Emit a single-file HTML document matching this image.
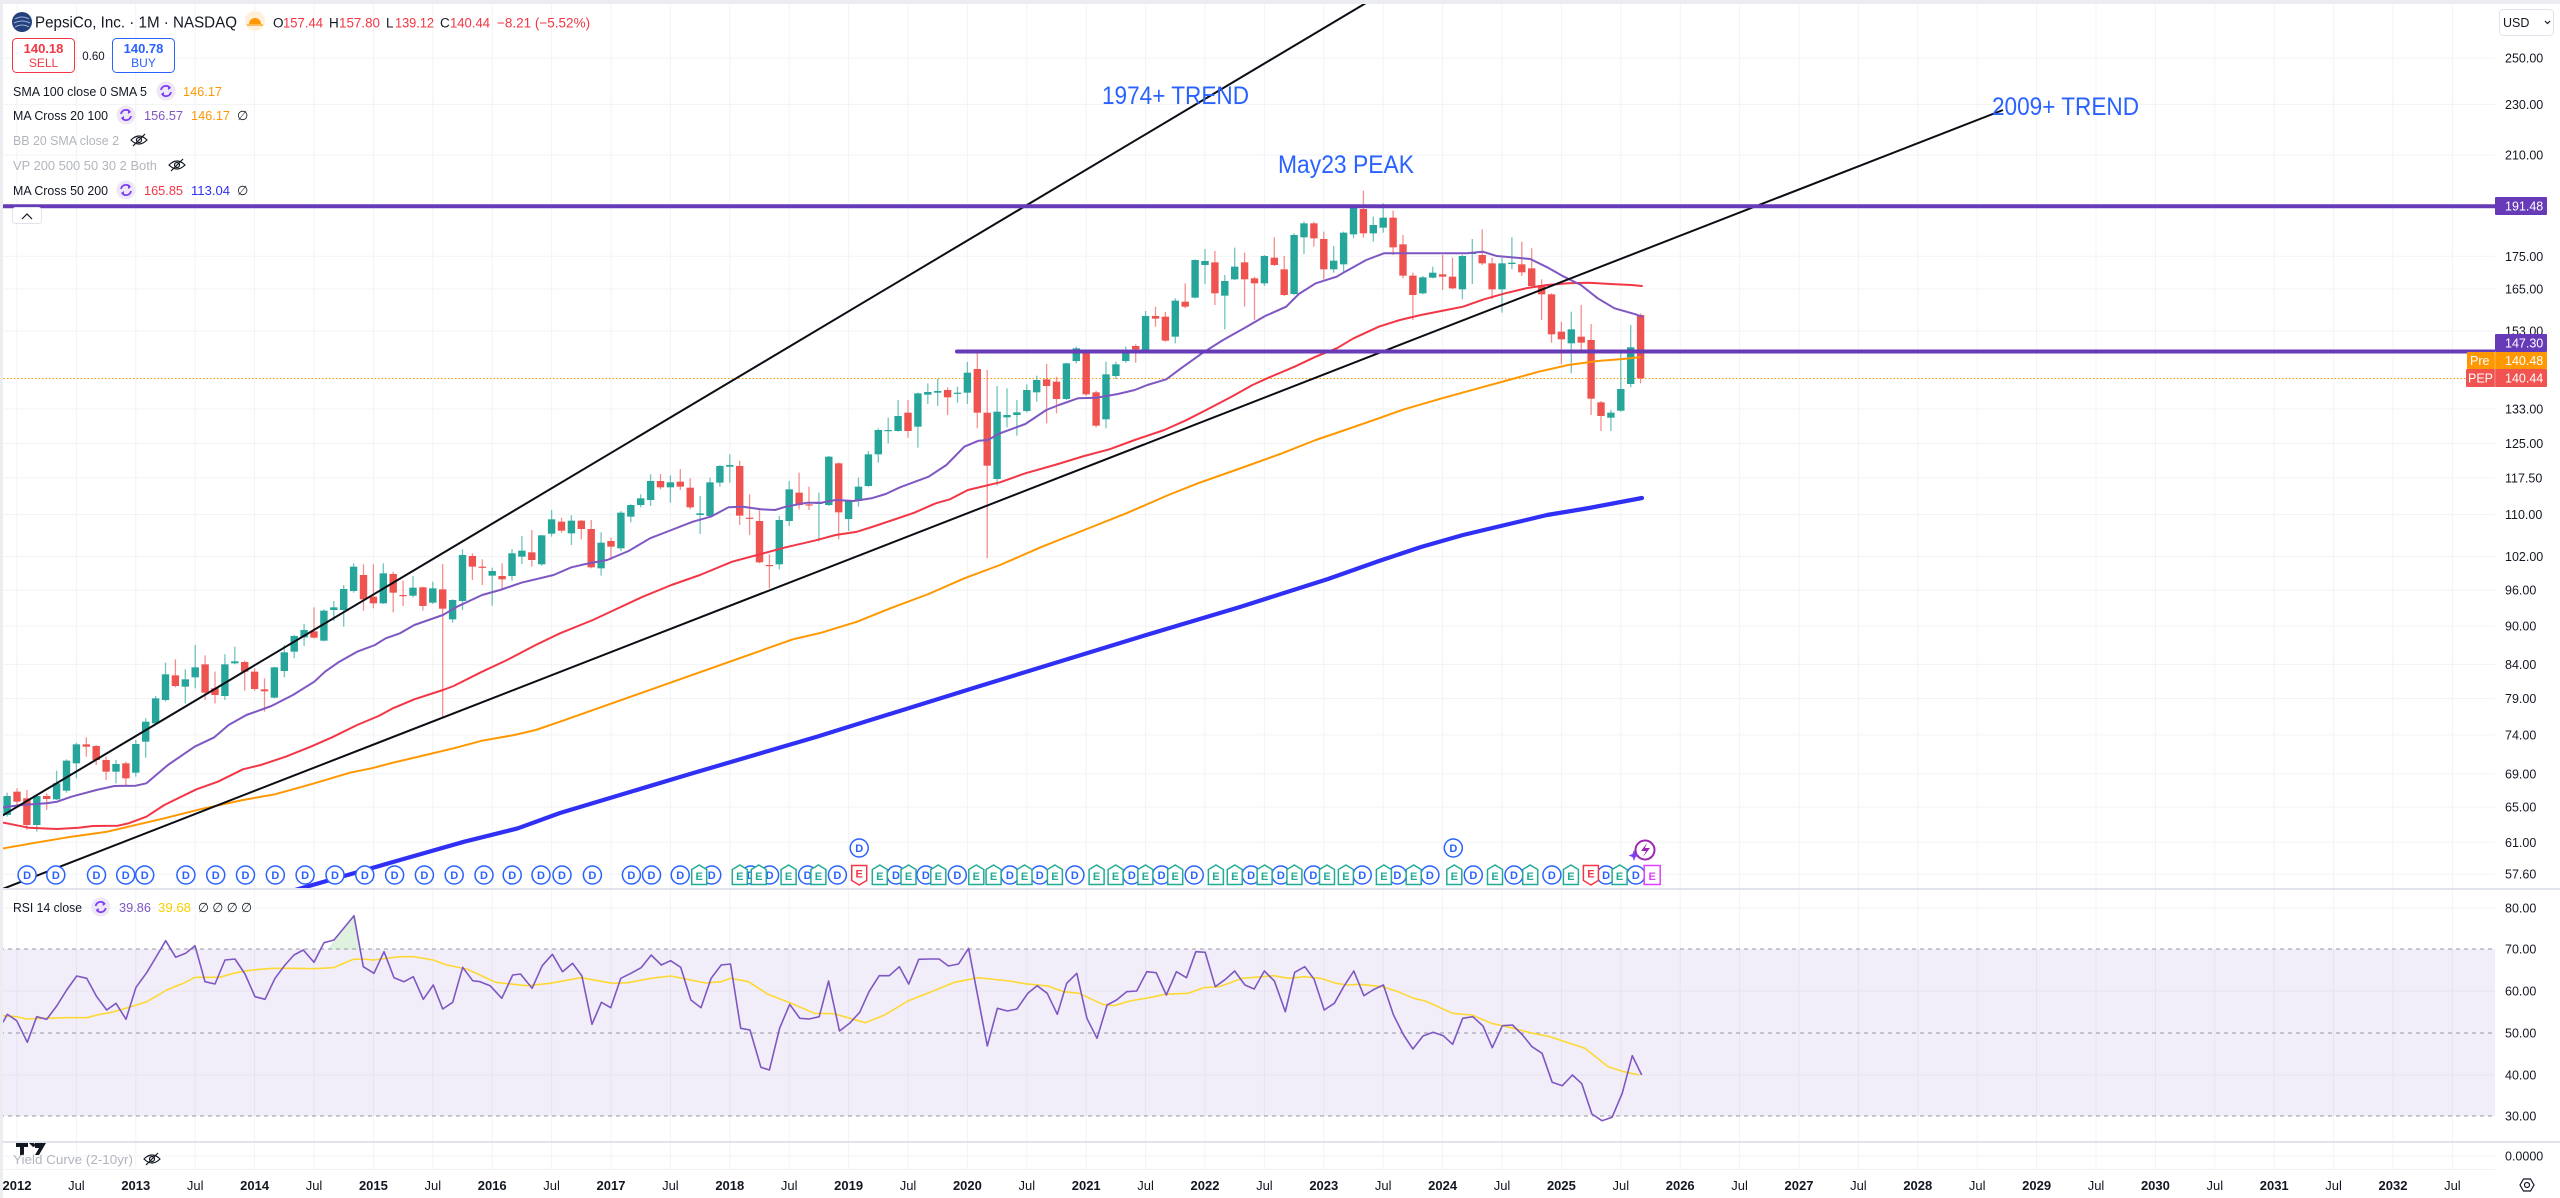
<!DOCTYPE html>
<html><head><meta charset="utf-8">
<style>
html,body{margin:0;padding:0;background:#fff;}
body{width:2560px;height:1198px;overflow:hidden;position:relative;}
svg{position:absolute;left:0;top:0;}
text{font-family:"Liberation Sans",Arial,sans-serif;}
</style></head><body>
<svg id="s" width="2560" height="1198" viewBox="0 0 2560 1198" xmlns="http://www.w3.org/2000/svg">
<defs>
<clipPath id="cm"><rect x="0" y="0" width="2495" height="889"/></clipPath>
<clipPath id="cr"><rect x="0" y="889" width="2495" height="253"/></clipPath>
</defs>
<rect x="0" y="0" width="2560" height="1198" fill="#fff"/>
<g id="grid"></g>
<!-- RSI band -->
<rect x="0" y="949" width="2495" height="167" fill="#7e57c2" fill-opacity="0.1"/>
<g stroke="#9598a1" stroke-width="1" stroke-dasharray="4 4">
<line x1="0" y1="949" x2="2495" y2="949"/>
<line x1="0" y1="1033" x2="2495" y2="1033"/>
<line x1="0" y1="1116" x2="2495" y2="1116"/>
</g>
<!-- pre-market dotted line -->
<line x1="0" y1="378.5" x2="2495" y2="378.5" stroke="#ff9800" stroke-width="1" stroke-dasharray="1.5 2"/>
<g id="candles" clip-path="url(#cm)"></g>
<g id="mas" clip-path="url(#cm)" fill="none" stroke-linejoin="round" stroke-linecap="round"></g>
<g clip-path="url(#cm)">
<line x1="0" y1="817" x2="1371" y2="0" stroke="#0c0e15" stroke-width="2"/>
<line x1="0" y1="890" x2="2003" y2="110" stroke="#0c0e15" stroke-width="2"/>
<line x1="3" y1="206.3" x2="2495" y2="206.3" stroke="#673ab7" stroke-width="4"/>
<line x1="957" y1="351.5" x2="2495" y2="351.5" stroke="#673ab7" stroke-width="4" stroke-linecap="round"/>
</g>
<g id="rsi" clip-path="url(#cr)" fill="none" stroke-linejoin="round"></g>
<g id="markers"></g>

<!-- annotations -->
<g fill="#2962ff" font-size="25">
<text x="1102" y="104" textLength="147" lengthAdjust="spacingAndGlyphs">1974+ TREND</text>
<text x="1992" y="115" textLength="147" lengthAdjust="spacingAndGlyphs">2009+ TREND</text>
<text x="1278" y="173" textLength="136" lengthAdjust="spacingAndGlyphs">May23 PEAK</text>
</g>

<!-- pane separators -->
<rect x="0" y="888" width="2560" height="2" fill="#e0e3eb"/>
<rect x="0" y="1141" width="2560" height="2" fill="#e0e3eb"/>
<line x1="0" y1="1169.5" x2="2495" y2="1169.5" stroke="#f0f1f4" stroke-width="1"/>
<!-- frame -->
<rect x="0" y="0" width="2560" height="4" fill="#ebedf0"/>
<rect x="0" y="0" width="3" height="1198" fill="#ebedf0"/>

<!-- legend -->
<circle cx="22" cy="22" r="10" fill="#23417c"/>
<path d="M15 19 Q22 15 29 19 M14 23 Q22 19 30 23 M15 27 Q22 23 29 27" stroke="#9fb3d9" stroke-width="1" fill="none"/>
<text x="35" y="27.5" font-size="15.5" fill="#131722" textLength="202" lengthAdjust="spacingAndGlyphs">PepsiCo, Inc. · 1M · NASDAQ</text>
<circle cx="255" cy="21" r="10" fill="#fff0dc"/>
<path d="M249 24 a6 6 0 0 1 12 0 z" fill="#ff9800"/>
<line x1="247" y1="25" x2="263" y2="25" stroke="#ff9800" stroke-width="1.2"/>
<g font-size="13.5">
<text x="273" y="27.5" fill="#131722">O</text><text x="283" y="27.5" fill="#f23645" textLength="40" lengthAdjust="spacingAndGlyphs">157.44</text>
<text x="329" y="27.5" fill="#131722">H</text><text x="339" y="27.5" fill="#f23645" textLength="41" lengthAdjust="spacingAndGlyphs">157.80</text>
<text x="386" y="27.5" fill="#131722">L</text><text x="395" y="27.5" fill="#f23645" textLength="39" lengthAdjust="spacingAndGlyphs">139.12</text>
<text x="440" y="27.5" fill="#131722">C</text><text x="450" y="27.5" fill="#f23645" textLength="40" lengthAdjust="spacingAndGlyphs">140.44</text>
<text x="497" y="27.5" fill="#f23645">−8.21 (−5.52%)</text>
</g>
<rect x="12.5" y="38.5" width="62" height="34" rx="4" fill="#fff" stroke="#f23645" stroke-width="1"/>
<text x="43.5" y="53" font-size="13" font-weight="bold" fill="#f23645" text-anchor="middle">140.18</text>
<text x="43.5" y="67" font-size="12" fill="#f23645" text-anchor="middle">SELL</text>
<text x="93.5" y="60" font-size="11.5" fill="#131722" text-anchor="middle">0.60</text>
<rect x="112.5" y="38.5" width="62" height="34" rx="4" fill="#fff" stroke="#2962ff" stroke-width="1"/>
<text x="143.5" y="53" font-size="13" font-weight="bold" fill="#2962ff" text-anchor="middle">140.78</text>
<text x="143.5" y="67" font-size="12" fill="#2962ff" text-anchor="middle">BUY</text>

<g font-size="13">
<text x="13" y="96" fill="#131722" textLength="134" lengthAdjust="spacingAndGlyphs">SMA 100 close 0 SMA 5</text>
<text x="183" y="96" fill="#ff9800" textLength="39" lengthAdjust="spacingAndGlyphs">146.17</text>
<text x="13" y="120" fill="#131722" textLength="95" lengthAdjust="spacingAndGlyphs">MA Cross 20 100</text>
<text x="144" y="120" fill="#7e57c2" textLength="39" lengthAdjust="spacingAndGlyphs">156.57</text>
<text x="191" y="120" fill="#ff9800" textLength="39" lengthAdjust="spacingAndGlyphs">146.17</text>
<text x="237" y="120" fill="#131722">∅</text>
<text x="13" y="145" fill="#b2b5be" textLength="106" lengthAdjust="spacingAndGlyphs">BB 20 SMA close 2</text>
<text x="13" y="170" fill="#b2b5be" textLength="144" lengthAdjust="spacingAndGlyphs">VP 200 500 50 30 2 Both</text>
<text x="13" y="195" fill="#131722" textLength="95" lengthAdjust="spacingAndGlyphs">MA Cross 50 200</text>
<text x="144" y="195" fill="#f23645" textLength="39" lengthAdjust="spacingAndGlyphs">165.85</text>
<text x="191" y="195" fill="#2f2ff5" textLength="39" lengthAdjust="spacingAndGlyphs">113.04</text>
<text x="237" y="195" fill="#131722">∅</text>
</g>
<g id="icons"></g>
<rect x="12.5" y="207.5" width="29" height="16" rx="3" fill="#fff" stroke="#e0e3eb"/>
<path d="M22 219 l5 -5 l5 5" stroke="#131722" stroke-width="1.2" fill="none"/>

<!-- RSI legend -->
<g font-size="13">
<text x="13" y="912" fill="#131722" textLength="69" lengthAdjust="spacingAndGlyphs">RSI 14 close</text>
<text x="119" y="912" fill="#7e57c2" textLength="32" lengthAdjust="spacingAndGlyphs">39.86</text>
<text x="158" y="912" fill="#f5d000" textLength="33" lengthAdjust="spacingAndGlyphs">39.68</text>
<text x="198" y="912" fill="#131722" textLength="54" lengthAdjust="spacingAndGlyphs">∅ ∅ ∅ ∅</text>
</g>
<!-- Yield curve pane -->
<path d="M16 1143 h12 v4 h-4 v8 h-4 v-8 h-4 z M29 1143 h4 a2 2 0 0 1 0 4 h-0 z M35 1143 h11 l-7 12 h-4 l4 -7 h-4 z" fill="#131722"/>
<text x="13" y="1164" font-size="13" fill="#b2b5be" textLength="120" lengthAdjust="spacingAndGlyphs">Yield Curve (2-10yr)</text>

<!-- price axis -->
<g font-size="12.5" fill="#131722">
<text x="2505" y="62.5">250.00</text>
<text x="2505" y="108.9">230.00</text>
<text x="2505" y="159.5">210.00</text>
<text x="2505" y="260.8">175.00</text>
<text x="2505" y="293.5">165.00</text>
<text x="2505" y="335.5">153.00</text>
<text x="2505" y="413.5">133.00</text>
<text x="2505" y="447.9">125.00</text>
<text x="2505" y="482.3">117.50</text>
<text x="2505" y="519">110.00</text>
<text x="2505" y="561">102.00</text>
<text x="2505" y="594.7">96.00</text>
<text x="2505" y="630.5">90.00</text>
<text x="2505" y="668.9">84.00</text>
<text x="2505" y="703">79.00</text>
<text x="2505" y="739.4">74.00</text>
<text x="2505" y="778.3">69.00</text>
<text x="2505" y="811.5">65.00</text>
<text x="2505" y="846.8">61.00</text>
<text x="2505" y="878.7">57.60</text>
<text x="2505" y="912.5">80.00</text>
<text x="2505" y="953.5">70.00</text>
<text x="2505" y="995.5">60.00</text>
<text x="2505" y="1037.5">50.00</text>
<text x="2505" y="1079.5">40.00</text>
<text x="2505" y="1120.5">30.00</text>
<text x="2505" y="1160.5">0.0000</text>
</g>
<!-- price tags -->
<rect x="2495" y="197" width="52" height="18" rx="1" fill="#673ab7"/>
<text x="2505" y="210.5" font-size="12.5" fill="#fff">191.48</text>
<rect x="2495" y="334" width="52" height="18" rx="1" fill="#673ab7"/>
<text x="2505" y="347.5" font-size="12.5" fill="#fff">147.30</text>
<rect x="2467" y="352" width="80" height="17" rx="1" fill="#ff9800"/>
<line x1="2495" y1="352" x2="2495" y2="369" stroke="#ffb74d" stroke-width="1"/>
<text x="2470" y="365" font-size="12.5" fill="#fff">Pre</text>
<text x="2505" y="365" font-size="12.5" fill="#fff">140.48</text>
<rect x="2466" y="369" width="81" height="18" rx="1" fill="#f05350"/>
<line x1="2495" y1="369" x2="2495" y2="387" stroke="#f48f8e" stroke-width="1"/>
<text x="2468" y="382.5" font-size="12.5" fill="#fff">PEP</text>
<text x="2505" y="382.5" font-size="12.5" fill="#fff">140.44</text>
<!-- USD -->
<rect x="2499.5" y="9.5" width="54" height="26" rx="4" fill="#fff" stroke="#e0e3eb"/>
<text x="2503" y="27" font-size="12.5" fill="#131722">USD</text>
<path d="M2545 21 l2.5 2.5 l2.5 -2.5" stroke="#131722" stroke-width="1.2" fill="none"/>
<!-- settings icon -->
<path d="M2520 1185 l3.5 -6 h7 l3.5 6 l-3.5 6 h-7 z" fill="none" stroke="#131722" stroke-width="1.2"/>
<circle cx="2527" cy="1185" r="2.5" fill="none" stroke="#131722" stroke-width="1.2"/>

<!-- time axis -->
<g font-size="13" fill="#131722" text-anchor="middle">
<text x="17" y="1190" font-weight="bold">2012</text><text x="76.4" y="1190">Jul</text>
<text x="135.8" y="1190" font-weight="bold">2013</text><text x="195.2" y="1190">Jul</text>
<text x="254.6" y="1190" font-weight="bold">2014</text><text x="314" y="1190">Jul</text>
<text x="373.4" y="1190" font-weight="bold">2015</text><text x="432.8" y="1190">Jul</text>
<text x="492.2" y="1190" font-weight="bold">2016</text><text x="551.6" y="1190">Jul</text>
<text x="611" y="1190" font-weight="bold">2017</text><text x="670.4" y="1190">Jul</text>
<text x="729.8" y="1190" font-weight="bold">2018</text><text x="789.2" y="1190">Jul</text>
<text x="848.6" y="1190" font-weight="bold">2019</text><text x="908" y="1190">Jul</text>
<text x="967.4" y="1190" font-weight="bold">2020</text><text x="1026.8" y="1190">Jul</text>
<text x="1086.2" y="1190" font-weight="bold">2021</text><text x="1145.6" y="1190">Jul</text>
<text x="1205" y="1190" font-weight="bold">2022</text><text x="1264.4" y="1190">Jul</text>
<text x="1323.8" y="1190" font-weight="bold">2023</text><text x="1383.2" y="1190">Jul</text>
<text x="1442.6" y="1190" font-weight="bold">2024</text><text x="1502" y="1190">Jul</text>
<text x="1561.4" y="1190" font-weight="bold">2025</text><text x="1620.8" y="1190">Jul</text>
<text x="1680.2" y="1190" font-weight="bold">2026</text><text x="1739.6" y="1190">Jul</text>
<text x="1799" y="1190" font-weight="bold">2027</text><text x="1858.4" y="1190">Jul</text>
<text x="1917.8" y="1190" font-weight="bold">2028</text><text x="1977.2" y="1190">Jul</text>
<text x="2036.6" y="1190" font-weight="bold">2029</text><text x="2096" y="1190">Jul</text>
<text x="2155.4" y="1190" font-weight="bold">2030</text><text x="2214.8" y="1190">Jul</text>
<text x="2274.2" y="1190" font-weight="bold">2031</text><text x="2333.6" y="1190">Jul</text>
<text x="2393" y="1190" font-weight="bold">2032</text><text x="2452.4" y="1190">Jul</text>
</g>
<g id="mtext" font-size="11" font-weight="bold" text-anchor="middle"></g>
</svg>
<script>
(function(){
const NS='http://www.w3.org/2000/svg';
function el(t,a,p){const e=document.createElementNS(NS,t);for(const k in a)e.setAttribute(k,a[k]);p.appendChild(e);return e;}
const $=id=>document.getElementById(id);
const X=m=>17+m*9.9;
// grid
const g=$('grid');
const hy=[58,104.4,155,206.3,256.3,289,331,409,443.4,477.8,514.5,556.5,590.2,626,664.4,698.5,734.9,773.8,807,842.3,874.2,908,991,1075,1156];
hy.forEach(y=>el('line',{x1:0,x2:2495,y1:y,y2:y,stroke:'#f2f3f6','stroke-width':1},g));
for(let i=0;i<42;i++){const x=17+i*59.4;el('line',{x1:x,x2:x,y1:4,y2:1169,stroke:'#f2f3f6','stroke-width':1},g);}
// candles
const C7=[[1188,1245,1178,1250,'g'],[1175,1205,1165,1215,'r'],[1195,1275,1170,1290,'r'],[1188,1275,1185,1295,'g'],[1188,1197,1180,1230,'r'],[1150,1198,1112,1200,'g'],[1082,1172,1078,1178,'g'],[1033,1090,1028,1135,'g'],[1033,1040,1012,1070,'r'],[1038,1080,1035,1095,'r'],[1080,1115,1070,1140,'r'],[1092,1115,1080,1150,'g'],[1090,1135,1085,1160,'r'],[1032,1118,1020,1130,'g'],[965,1025,955,1073,'g'],[895,970,888,975,'g'],[823,900,788,905,'g'],[826,858,778,862,'r'],[838,860,808,910,'g'],[802,832,735,865,'g'],[793,878,766,900,'r'],[865,885,815,910,'r'],[793,888,763,900,'g'],[784,790,740,793,'g'],[786,815,782,872,'r'],[815,867,805,872,'r'],[868,874,835,935,'r'],[802,893,800,895,'g'],[757,813,735,832,'g'],[708,755,705,775,'g'],[690,712,672,738,'g'],[694,713,622,716,'r'],[632,722,628,724,'g'],[622,630,603,663,'g'],[567,630,555,680,'g'],[500,573,490,578,'g'],[525,598,493,632,'r'],[590,610,493,625,'r'],[520,610,490,612,'g'],[522,578,515,637,'r'],[585,588,542,618,'r'],[563,587,528,592,'g'],[562,618,560,632,'r'],[565,608,545,612,'g'],[568,626,492,950,'r'],[600,658,598,668,'g'],[465,603,448,630,'g'],[468,500,460,540,'r'],[500,503,478,555,'r'],[513,527,503,617,'g'],[528,538,490,568,'r'],[460,528,447,542,'g'],[452,470,408,492,'g'],[457,480,390,500,'r'],[406,493,405,497,'g'],[358,401,330,410,'g']];
const C8=[[905,932,893,938,'r'],[902,940,886,975,'g'],[902,927,900,958,'r'],[927,1042,900,1045,'r'],[968,1045,937,1067,'g'],[963,980,953,1020,'r'],[878,985,873,993,'g'],[855,890,853,907,'g'],[835,855,823,862,'g'],[783,840,763,858,'g'],[783,802,762,808,'r'],[787,802,766,848,'g'],[785,800,747,810,'r'],[803,862,775,868,'r'],[880,885,828,942,'g'],[787,888,773,890,'g'],[738,788,735,800,'g'],[735,740,703,788,'g'],[738,887,722,915,'r'],[893,896,823,945,'r'],[903,1027,870,1030,'r'],[1035,1038,1003,1105,'r'],[900,1033,888,1048,'g'],[808,903,783,918,'g'],[818,855,758,868,'r'],[853,856,800,870,'r'],[848,852,818,965,'g'],[710,855,708,858,'g'],[730,877,727,958,'r'],[842,897,840,933,'g'],[800,843,773,860,'g'],[703,798,693,800,'g'],[630,703,625,728,'g'],[630,633,593,670,'g'],[588,633,540,635,'g'],[578,633,540,653,'r'],[520,620,518,683,'g'],[516,524,490,552,'g'],[513,518,476,558,'g'],[510,532,502,585,'r'],[518,520,500,548,'g'],[458,518,426,552,'g'],[447,578,400,625,'r'],[578,737,450,1015,'r'],[575,777,498,797,'g'],[585,592,505,622,'g'],[577,585,540,647,'g'],[510,573,493,578,'g'],[480,517,467,545,'g'],[478,498,432,610,'r']];
const C9=[[605,657,590,700,'r'],[550,657,548,660,'g'],[505,543,500,550,'g'],[517,643,513,648,'r'],[637,737,632,742,'r'],[583,718,545,745,'g'],[553,588,545,597,'g'],[512,543,500,548,'g'],[498,508,493,548,'r'],[408,510,393,512,'g'],[408,416,380,440,'r'],[410,482,396,485,'r'],[362,470,355,490,'g'],[365,380,310,385,'r'],[240,353,238,355,'g'],[243,255,207,312,'g'],[247,340,213,375,'r'],[303,347,285,448,'g'],[260,298,203,300,'g'],[247,298,218,380,'r'],[295,310,290,420,'r'],[228,310,225,318,'g'],[233,255,172,258,'r'],[268,345,228,348,'r'],[165,342,160,345,'g'],[130,172,125,222,'g'],[130,175,125,200,'r'],[177,268,155,298,'r'],[242,268,198,278,'g'],[158,253,155,275,'g'],[82,163,78,175,'g'],[87,160,32,173,'r'],[135,160,110,185,'g'],[113,143,70,158,'g'],[113,202,92,225,'r'],[193,287,165,295,'r'],[287,345,278,420,'r'],[292,340,288,343,'g'],[278,293,260,295,'g'],[283,290,225,330,'r'],[290,325,233,328,'r'],[228,328,225,358,'g'],[218,222,177,312,'g'],[225,250,148,255,'r'],[250,328,233,357,'r'],[250,328,233,398,'g'],[248,252,172,268,'g'],[253,277,185,288,'r'],[265,318,205,320,'r'],[315,343,298,420,'r'],[343,463,340,488,'r'],[455,478,425,553,'r'],[448,490,395,580,'g'],[470,488,375,520,'r'],[480,656,432,705,'r'],[667,708,663,753,'r'],[698,713,690,753,'g'],[627,692,520,695,'g'],[502,612,435,622,'g'],[405,595,400,610,'r']];
const gc=$('candles');
function addC(arr,m0,oy){arr.forEach((c,i)=>{const x=X(m0+i);const col=c[4]=='g'?'#26a69a':'#ef5350';
 el('line',{x1:x,x2:x,y1:oy+c[2]/3,y2:oy+c[3]/3,stroke:col,'stroke-width':1.3,'stroke-opacity':0.65},gc);
 const t=oy+c[0]/3,b=oy+c[1]/3;el('rect',{x:x-3.7,y:t,width:7.4,height:Math.max(1.2,b-t),fill:col},gc);});}
addC(C7,-1,400);addC(C8,55,220);addC(C9,105,180);
// conversions
const z7=p=>p.map(q=>[q[0]/2.8,400+q[1]/3]);
const z8=p=>p.map(q=>[500+q[0]/2.8,220+q[1]/3]);
const z9=p=>p.map(q=>[1000+q[0]/2.3758,180+q[1]/3]);
const z5=p=>p.map(q=>[q[0]/3,850+q[1]/3]);
const z12=p=>p.map(q=>[480+q[0]/1.2852,895+q[1]/3]);
const D=pts=>'M'+pts.map(p=>p[0].toFixed(1)+' '+p[1].toFixed(1)).join(' L');
const gm=$('mas');
const purple=[].concat(
 z7([[0,1224],[10,1222],[60,1215],[130,1210],[160,1205],[200,1190],[270,1170],[320,1158],[380,1157],[410,1150],[470,1095],[545,1040],[600,1012],[640,975],[690,945],[760,918],[820,885],[880,845],[910,815],[950,785],[1000,755],[1050,735],[1080,715],[1120,700],[1160,675],[1240,645],[1280,620],[1350,585],[1400,570]]),
 z8([[60,1088],[150,1065],[200,1042],[240,1032],[300,1020],[360,993],[420,955],[480,930],[540,905],[590,890],[640,862],[680,860],[730,868],[770,870],[800,860],[860,848],[900,848],[940,840],[990,843],[1040,835],[1080,822],[1120,802],[1200,770],[1250,735],[1300,680],[1340,662],[1366,660],[1400,640]]),
 z9([[60,732],[110,690],[140,675],[185,655],[230,653],[280,642],[320,630],[350,615],[395,598],[430,565],[480,520],[530,480],[580,445],[630,408],[680,380],[710,342],[750,310],[800,290],[820,275],[870,240],[912,220],[1000,220],[1110,220],[1147,215],[1180,228],[1260,237],[1300,262],[1340,290],[1380,315],[1420,355],[1460,385],[1510,403],[1525,410]]));
const red=[].concat(
 z7([[0,1266],[10,1268],[80,1283],[160,1287],[220,1283],[260,1278],[330,1277],[360,1270],[410,1250],[460,1215],[550,1168],[610,1145],[680,1108],[730,1095],[800,1070],[870,1040],[930,1012],[1000,975],[1060,948],[1100,925],[1160,898],[1240,870],[1270,858],[1350,815],[1420,780],[1500,735],[1568,700]]),
 z8([[260,1200],[320,1170],[400,1130],[480,1095],[560,1065],[650,1025],[720,1005],[800,982],[880,962],[940,945],[1000,935],[1050,918],[1100,900],[1160,878],[1220,850],[1260,838],[1310,810],[1400,787]]),
 z9([[60,880],[130,855],[200,828],[260,808],[320,780],[390,750],[440,722],[490,690],[550,650],[600,615],[640,592],[700,560],[750,530],[800,505],[840,475],[900,440],[950,420],[1000,405],[1060,390],[1100,380],[1150,358],[1200,340],[1250,325],[1300,315],[1350,310],[1400,308],[1450,312],[1500,315],[1525,318]]));
const orange=[].concat(
 z7([[0,1347],[10,1345],[100,1328],[200,1310],[300,1295],[400,1270],[460,1255],[560,1228],[680,1200],[770,1183],[880,1150],[980,1118],[1040,1105],[1100,1088],[1180,1068],[1270,1045],[1350,1022],[1440,1005],[1500,990],[1568,965]]),
 z8([[820,1258],[900,1238],[1000,1205],[1100,1162],[1200,1122],[1300,1075],[1400,1035]]),
 z9([[100,1100],[200,1050],[300,1000],[400,945],[470,910],[560,870],[670,820],[750,780],[820,750],[900,715],[960,688],[1050,655],[1150,620],[1200,603],[1280,575],[1350,555],[1420,543],[1480,537],[1520,532]]));
const blue=[[295,890],[400,860],[464.3,841.7],[517.9,828.3],[560,813],[690,774],[816,737],[980,686],[1143,636],[1240,607],[1328,579],[1379,561],[1421,547],[1463,535],[1505,525],[1547,515],[1589,508],[1642,498]];
el('path',{d:D(orange),stroke:'#ff9800','stroke-width':2},gm);
el('path',{d:D(red),stroke:'#f23645','stroke-width':2},gm);
el('path',{d:D(blue),stroke:'#2f2ff5','stroke-width':4.2},gm);
el('path',{d:D(purple),stroke:'#7e57c2','stroke-width':2},gm);
// RSI
const gr=$('rsi');
const rp=[].concat(
 z5([[0,520],[10,515],[22,493],[50,512],[82,577],[110,500],[140,508],[170,468],[200,420],[230,378],[260,385],[290,440],[320,480],[348,460],[378,508],[408,412],[440,368],[470,318],[497,272],[527,322],[557,310],[585,287],[615,395],[645,402],[675,330],[705,327],[735,372],[765,440],[795,448],[825,385],[855,345],[882,315],[910,300],[942,337],[972,278],[1002,270],[1062,197],[1090,350],[1122,370],[1152,305],[1182,383],[1212,395],[1240,380],[1270,448],[1300,405],[1328,477],[1358,457],[1388,352],[1418,392]]),
 z12([[0,260],[13,272],[28,310],[42,240],[52,237],[67,280],[80,212],[93,178],[106,230],[119,205],[131,243],[144,388],[156,322],[168,338],[181,250],[194,235],[207,218],[220,180],[233,210],[245,197],[258,217],[271,315],[284,338],[297,250],[310,210],[322,207],[335,400],[347,405],[361,517],[372,525],[385,400],[398,328],[411,370],[423,372],[436,365],[448,258],[462,408],[475,385],[488,352],[500,290],[513,242],[526,242],[539,215],[551,267],[564,193],[577,192],[590,192],[602,213],[615,207],[628,160],[652,453],[665,340],[678,348],[690,342],[704,295],[716,272],[729,295],[742,358],[754,265],[767,235],[780,370],[793,430],[806,330],[818,315],[831,290],[844,288],[857,230],[869,233],[882,300],[895,230],[908,248],[920,170],[932,172],[945,275],[958,253],[970,228],[983,270],[995,282],[1008,228],[1021,258],[1035,350],[1047,232],[1060,215],[1072,253],[1085,345],[1098,325],[1110,275],[1123,228],[1136,302],[1149,283],[1161,270],[1174,360],[1187,420],[1199,462],[1212,423],[1225,412],[1238,422],[1250,448],[1263,370],[1276,365],[1289,393],[1301,458],[1314,392],[1327,390],[1340,420],[1352,455],[1365,475],[1378,562],[1391,572],[1404,540],[1416,566],[1429,657],[1442,677],[1455,667],[1468,595],[1481,482],[1493,540]]));
const ry=[].concat(
 z5([[0,496],[10,497],[50,500],[80,507],[130,505],[200,503],[260,503],[300,493],[330,488],[370,477],[400,468],[440,455],[470,438],[500,420],[550,400],[585,382],[660,382],[700,370],[740,362],[780,358],[820,355],[870,355],[940,356],[1000,353],[1060,328],[1090,327],[1120,330],[1160,325],[1200,320],[1240,320],[1300,330],[1340,345],[1400,357]]),
 z12([[0,240],[20,262],[60,272],[90,265],[130,248],[170,265],[190,263],[220,250],[245,243],[260,250],[290,264],[310,260],[322,250],[345,260],[370,298],[400,325],[430,355],[455,356],[495,383],[520,360],[550,318],[580,290],[610,262],[640,248],[680,258],[700,266],[730,273],[750,290],[770,295],[800,328],[815,332],[835,318],[860,308],[880,298],[910,295],[930,278],[950,275],[980,250],[1020,242],[1040,250],[1060,245],[1080,250],[1100,265],[1115,270],[1130,268],[1160,275],[1180,290],[1200,310],[1215,318],[1250,355],[1275,360],[1300,385],[1325,398],[1350,413],[1375,425],[1420,460],[1450,515],[1470,530],[1490,540]]));
const ob=z5([[985,298],[1002,270],[1062,197],[1078,298]]);
el('path',{d:D(ob)+' Z',fill:'#4caf50','fill-opacity':0.18,stroke:'none'},gr);
el('path',{d:D(ry),stroke:'#fdd835','stroke-width':1.6},gr);
el('path',{d:D(rp),stroke:'#7e57c2','stroke-width':1.6},gr);
// markers
const gk=$('markers');
const Y=875;
const Dx=[27.1,55.8,96.5,125.7,144.7,185.9,215.7,245.5,275.3,305.1,335,364.8,394.6,424.4,454.2,484,512.2,541,562,592.4,631.4,651.5,680.2,711.7,750.7,769.6,807.6,837.4,896,925.9,957.3,1009.9,1039.7,1074.9,1131.8,1161.6,1194.2,1251.1,1280.9,1313.4,1362.2,1397.4,1429.9,1473.3,1514,1551.9,1606.1,1635.9];
const Ex=[699.2,739.8,758.8,788.6,818.4,879.8,908.5,938.3,976.3,993.6,1024.5,1054.9,1096.6,1115.6,1145.4,1175.2,1215.9,1234.8,1264.6,1294.4,1327,1345.9,1383.9,1413.7,1454.3,1495,1530.2,1570.9,1619.6];
function dMark(x,y){el('circle',{cx:x,cy:y,r:9,fill:'#fff',stroke:'#2962ff','stroke-width':1.5},gk);const t=el('text',{x:x,y:y+4,'font-size':11,'font-weight':'bold',fill:'#2962ff','text-anchor':'middle'},gk);t.textContent='D';}
function eMark(x,col,type){let d;
 if(type==0)d=`M${x-7.5} ${Y+9.5} V${Y-5.5} L${x} ${Y-10} L${x+7.5} ${Y-5.5} V${Y+9.5} Z`;
 else if(type==1)d=`M${x-7.5} ${Y-9.5} H${x+7.5} V${Y+5.5} L${x} ${Y+10} L${x-7.5} ${Y+5.5} Z`;
 else d=`M${x-8} ${Y-9.5} H${x+8} V${Y+9.5} H${x-8} Z`;
 el('path',{d:d,fill:'#fff',stroke:col,'stroke-width':1.5},gk);
 const t=el('text',{x:x,y:Y+(type==1?2.5:5),'font-size':11,'font-weight':'bold',fill:col,'text-anchor':'middle'},gk);t.textContent='E';}
Dx.forEach(x=>dMark(x,Y));
Ex.forEach(x=>eMark(x,'#22ab94',0));
eMark(859.2,'#f23645',1);eMark(1590.9,'#f23645',1);eMark(1652.2,'#e040fb',2);
dMark(859.2,848);dMark(1453.3,848);
el('circle',{cx:1645,cy:850,r:9.5,fill:'#fff',stroke:'#9c27b0','stroke-width':2},gk);
el('path',{d:'M1647 843 L1641 851 H1646 L1643 857 L1650 848 H1645 Z',fill:'#9c27b0'},gk);
el('path',{d:'M1634 850 L1635.5 854 L1639.5 855.5 L1635.5 857 L1634 861 L1632.5 857 L1628.5 855.5 L1632.5 854 Z',fill:'#7e3ff2'},gk);
// legend icons
const gi=$('icons');
function ref(cx,cy){el('circle',{cx:cx,cy:cy,r:9.5,fill:'#ede7f6'},gi);
 el('path',{d:`M${cx-5} ${cy-1} A5 5 0 0 1 ${cx+4} ${cy-3} M${cx+5} ${cy+1} A5 5 0 0 1 ${cx-4} ${cy+3}`,stroke:'#7e3ff2','stroke-width':1.8,fill:'none'},gi);
 el('path',{d:`M${cx+2} ${cy-5} L${cx+5} ${cy-3} L${cx+2} ${cy-1} Z M${cx-2} ${cy+5} L${cx-5} ${cy+3} L${cx-2} ${cy+1} Z`,fill:'#7e3ff2'},gi);}
function eye(cx,cy){el('path',{d:`M${cx-8} ${cy} Q${cx} ${cy-8} ${cx+8} ${cy} Q${cx} ${cy+8} ${cx-8} ${cy} Z`,stroke:'#131722','stroke-width':1.2,fill:'none'},gi);
 el('circle',{cx:cx,cy:cy,r:2.5,stroke:'#131722','stroke-width':1.2,fill:'none'},gi);
 el('line',{x1:cx-6,y1:cy+6,x2:cx+6,y2:cy-6,stroke:'#131722','stroke-width':1.2},gi);}
ref(166,91);ref(126,115);ref(126,190);ref(100.7,907);
eye(139,140);eye(177,165);eye(152,1159);
})();
</script>
</body></html>
